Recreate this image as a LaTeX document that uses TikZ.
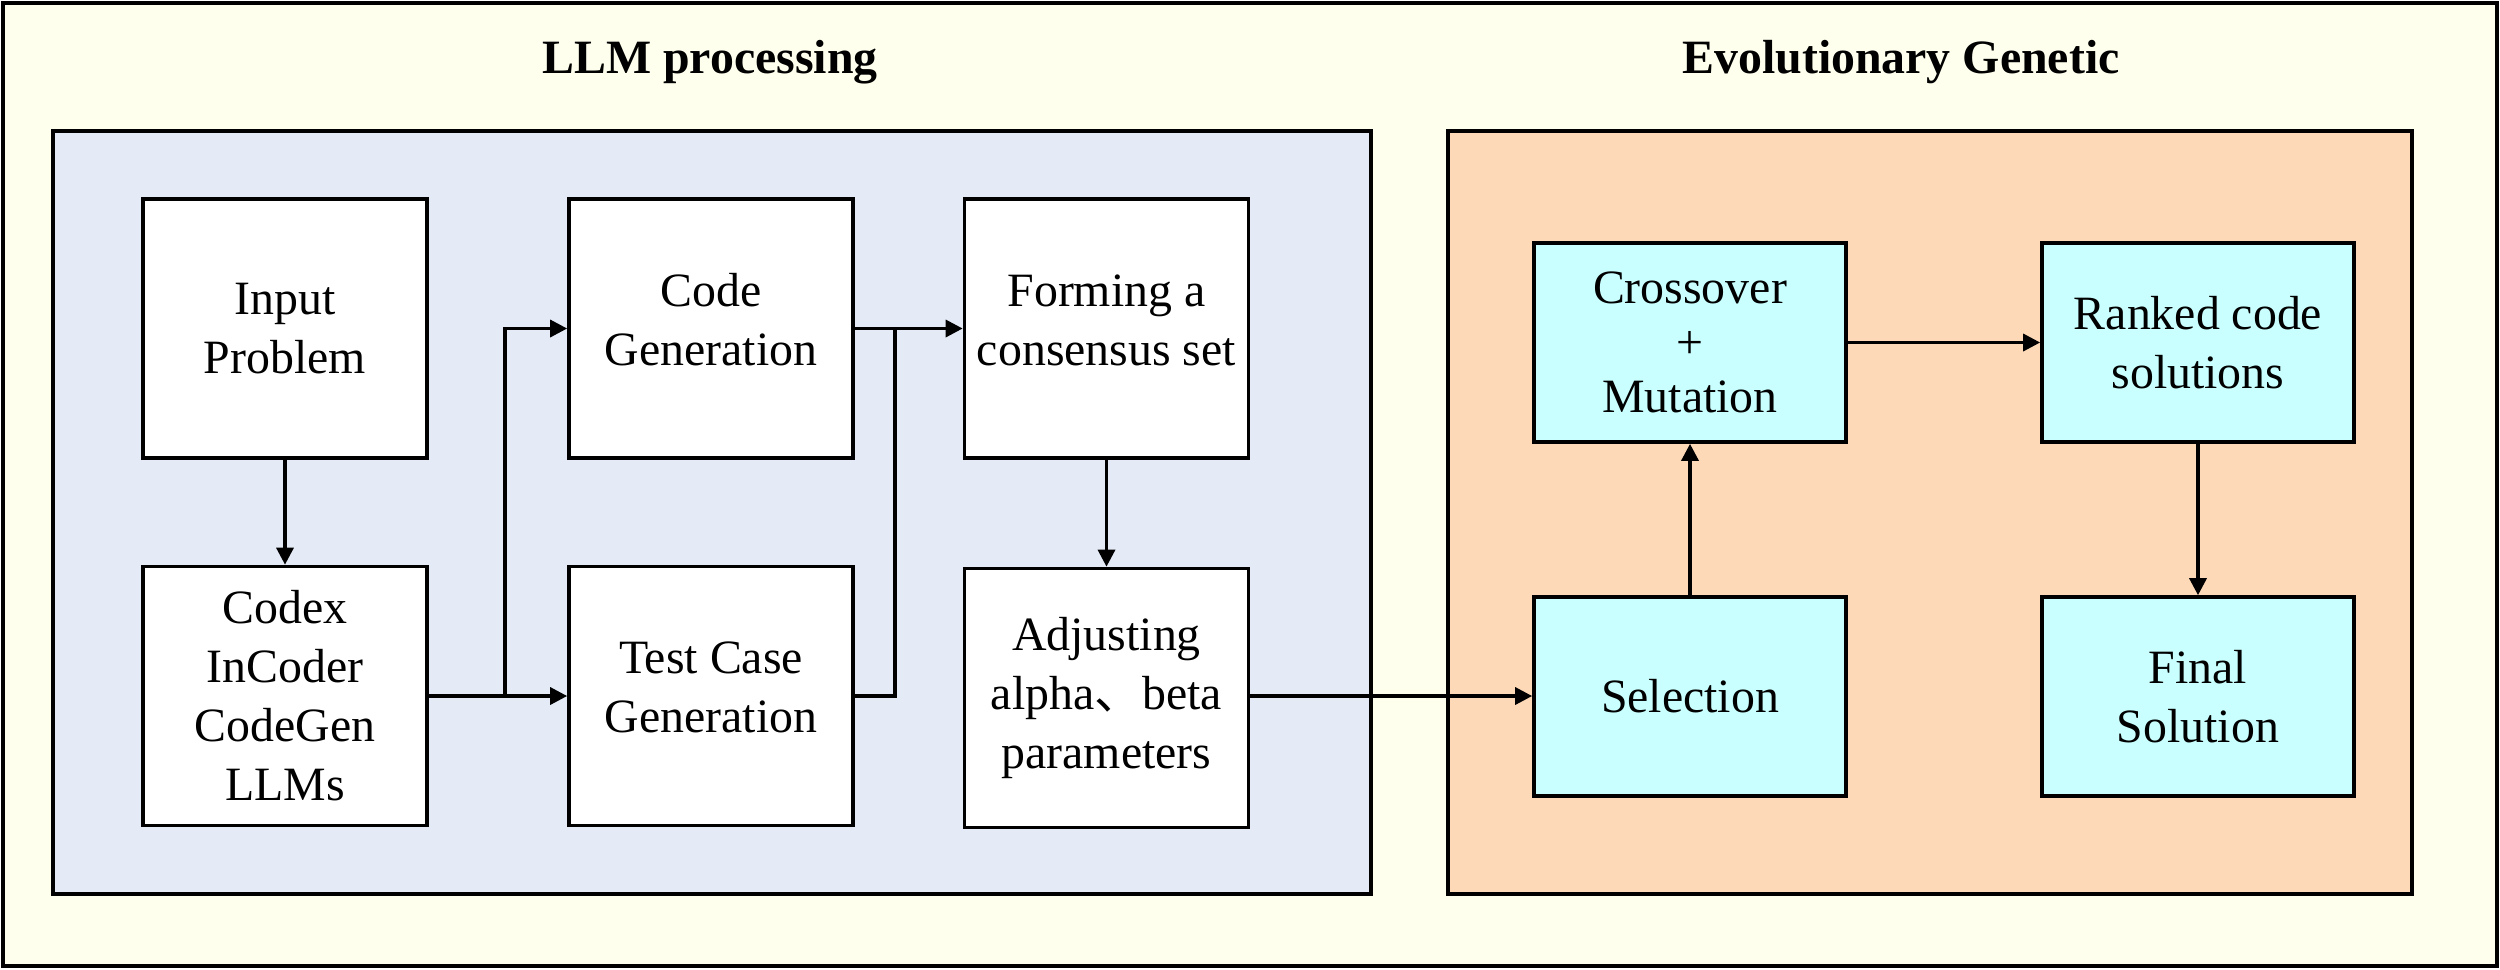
\documentclass[tikz,border=0pt]{standalone}
\usepackage{fontspec}
\setmainfont{Liberation Serif}
\newfontfamily\cjk{Noto Sans CJK SC}
\usetikzlibrary{arrows.meta}
\definecolor{outerbg}{RGB}{255,255,238}
\definecolor{llmbg}{RGB}{228,235,246}
\definecolor{evobg}{RGB}{253,217,184}
\definecolor{gacyan}{RGB}{202,255,255}
\tikzset{
  box/.style={draw,line width=1pt,fill=white,minimum width=2.84cm,minimum height=2.59cm,
    align=center,inner sep=0pt,font=\fontsize{13.6}{16.8}\selectfont},
  gabox/.style={box,fill=gacyan,minimum width=3.12cm,minimum height=1.99cm},
  lifted/.style={text depth=5pt},
  title/.style={anchor=base,font=\fontsize{13.6}{16.8}\selectfont\bfseries},
  line/.style={line width=0.95pt},
  >={Triangle[length=0.17cm,width=0.17cm]}
}
\begin{document}
\begin{tikzpicture}[x=0.01cm,y=-0.01cm]
\useasboundingbox (0,0) rectangle (2500,969);
% frames
\draw[line width=1pt,fill=outerbg] (3,3) rectangle (2497,966);
\draw[line width=1pt,fill=llmbg] (53,131) rectangle (1371,894);
\draw[line width=1pt,fill=evobg] (1448,131) rectangle (2412,894);
\node[title] (llmtitle) at (710,73) {LLM processing};
\node[title] (evotitle) at (1901,73) {Evolutionary Genetic};

% LLM processing
\node[box] (input) at (285,328.5) {Input\\Problem};
\node[box] (llms) at (285,696) {Codex\\InCoder\\CodeGen\\LLMs};
\node[box,lifted] (codegen) at (711,328.5) {Code\\Generation};
\node[box,lifted] (testgen) at (711,696) {Test Case\\Generation};
\node[box,lifted] (consensus) at (1106.5,328.5) {Forming a\\consensus set};
\node[box] (adjust) at (1106.5,698) {Adjusting\\alpha{\cjk 、}beta\\parameters};

% Evolutionary Genetic
\node[gabox,font=\fontsize{13.6}{15.6}\selectfont] (cross) at (1690,342.5) {Crossover\\+\\Mutation};
\node[gabox] (ranked) at (2198,342.5) {Ranked code\\solutions};
\node[gabox] (select) at (1690,696.5) {Selection};
\node[gabox] (final) at (2198,696.5) {Final\\Solution};

\coordinate (split) at (505,696);
\coordinate (join) at (895,328.5);
\draw[line,->] (input) -- (llms);
\draw[line] (llms) -- (split);
\draw[line,->] (split) |- (codegen);
\draw[line,->] (split) -- (testgen);
\draw[line,->] (codegen) -- (consensus);
\draw[line] (testgen) -| (join);
\draw[line,->] (consensus) -- (adjust);
\draw[line,->] (adjust.east |- split) -- (select.west |- split);
\draw[line,->] (select) -- (cross);
\draw[line,->] (cross) -- (ranked);
\draw[line,->] (ranked) -- (final);
\end{tikzpicture}
\end{document}
